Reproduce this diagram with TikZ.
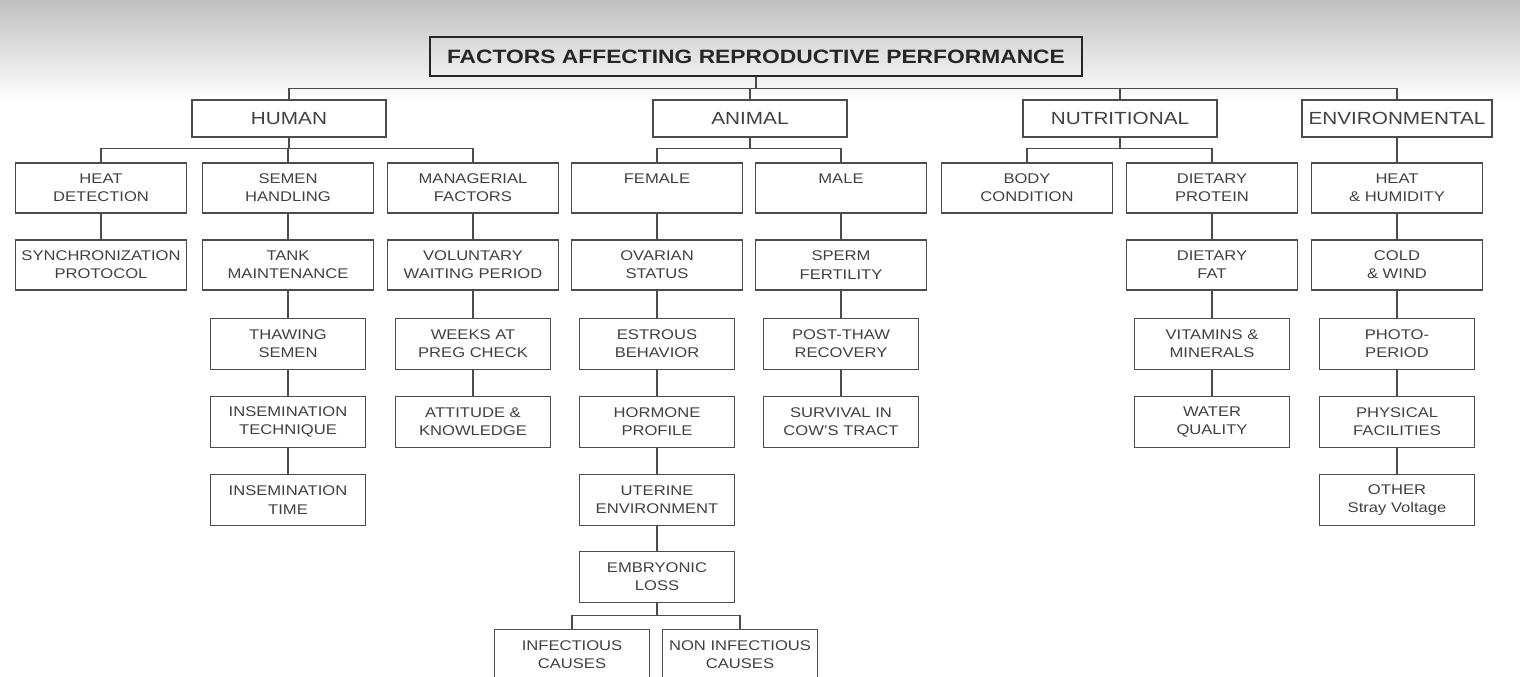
\documentclass[tikz,border=0pt]{standalone}
\usepackage{fontspec}
\setmainfont[FakeStretch=1.18]{Liberation Sans}
\begin{document}
\begin{tikzpicture}[x=0.02cm,y=-0.02cm,
  line/.style={draw=black!70, line width=0.7pt},
  box/.style={line, align=center, inner sep=0pt, text=black!75,
    font=\fontsize{8}{10.4}\selectfont, minimum width=3.42cm, minimum height=1.0cm},
  nbox/.style={box, minimum width=3.1cm, minimum height=1.03cm},
  topbox/.style={box, font=\fontsize{10}{12}\selectfont, minimum width=3.88cm, minimum height=0.74cm},
  titlebox/.style={box, draw=black!85, line width=0.9pt, text=black!85,
    font=\fontsize{11}{13}\selectfont\bfseries, minimum width=13.04cm, minimum height=0.78cm}]
\useasboundingbox (0,0) rectangle (1520,676);
% scan shading at the top
\shade[top color=black!25, bottom color=white] (0,0) rectangle (1520,100);
% Title and main groups
\node[titlebox] (title) at (756,56.5) {FACTORS AFFECTING REPRODUCTIVE PERFORMANCE};
\node[topbox] (human)  at (289,118.5) {HUMAN};
\node[topbox] (animal) at (750,118.5) {ANIMAL};
\node[topbox] (nutri)  at (1120,118.5) {NUTRITIONAL};
\node[topbox, minimum width=3.8cm] (env) at (1397,118.5) {ENVIRONMENTAL};
% --- Human ---
\node[box]  (heat)  at (101,188) {HEAT\\DETECTION};
\node[box]  (sync)  at (101,265) {SYNCHRONIZATION\\PROTOCOL};
\node[box]  (semen) at (288,188) {SEMEN\\HANDLING};
\node[box]  (tank)  at (288,265) {TANK\\MAINTENANCE};
\node[nbox] (thaw)  at (288,344) {THAWING\\SEMEN};
\node[nbox] (tech)  at (288,422) {INSEMINATION\\TECHNIQUE};
\node[nbox] (itime) at (288,500) {INSEMINATION\\TIME};
\node[box]  (manag) at (473,188) {MANAGERIAL\\FACTORS};
\node[box]  (vwp)   at (473,265) {VOLUNTARY\\WAITING PERIOD};
\node[nbox] (weeks) at (473,344) {WEEKS AT\\PREG CHECK};
\node[nbox] (attit) at (473,422) {ATTITUDE \&\\KNOWLEDGE};
% --- Animal ---
\node[box]  (female) at (657,188) {FEMALE\\\mbox{}};
\node[box]  (ovar)   at (657,265) {OVARIAN\\STATUS};
\node[nbox] (estr)   at (657,344) {ESTROUS\\BEHAVIOR};
\node[nbox] (horm)   at (657,422) {HORMONE\\PROFILE};
\node[nbox] (uter)   at (657,500) {UTERINE\\ENVIRONMENT};
\node[nbox] (embr)   at (657,577) {EMBRYONIC\\LOSS};
\node[nbox] (infec)  at (572,655) {INFECTIOUS\\CAUSES};
\node[nbox] (noninf) at (740,655) {NON INFECTIOUS\\CAUSES};
\node[box]  (male)   at (841,188) {MALE\\\mbox{}};
\node[box]  (sperm)  at (841,265) {SPERM\\FERTILITY};
\node[nbox] (post)   at (841,344) {POST-THAW\\RECOVERY};
\node[nbox] (surv)   at (841,422) {SURVIVAL IN\\COW'S TRACT};
% --- Nutritional ---
\node[box]  (body)    at (1027,188) {BODY\\CONDITION};
\node[box]  (protein) at (1212,188) {DIETARY\\PROTEIN};
\node[box]  (fat)     at (1212,265) {DIETARY\\FAT};
\node[nbox] (vitam)   at (1212,344) {VITAMINS \&\\MINERALS};
\node[nbox] (water)   at (1212,422) {WATER\\QUALITY};
% --- Environmental ---
\node[box]  (humid) at (1397,188) {HEAT\\\& HUMIDITY};
\node[box]  (cold)  at (1397,265) {COLD\\\& WIND};
\node[nbox] (photo) at (1397,344) {PHOTO-\\PERIOD};
\node[nbox] (phys)  at (1397,422) {PHYSICAL\\FACILITIES};
\node[nbox] (other) at (1397,500) {OTHER\\Stray Voltage};
% Branch connectors
\foreach \n in {human,animal,nutri,env}
  \draw[line] (title.south) -- ++(0,12) -| (\n.north);
\foreach \n in {heat,semen,manag}
  \draw[line] (human.south) -- ++(0,11) -| (\n.north);
\foreach \n in {female,male}
  \draw[line] (animal.south) -- ++(0,11) -| (\n.north);
\foreach \n in {body,protein}
  \draw[line] (nutri.south) -- ++(0,11) -| (\n.north);
\draw[line] (env.south) -- (humid.north);
\foreach \n in {infec,noninf}
  \draw[line] (embr.south) -- ++(0,12) -| (\n.north);
% Chains
\foreach \a/\b in {heat/sync, semen/tank, tank/thaw, thaw/tech, tech/itime,
    manag/vwp, vwp/weeks, weeks/attit, female/ovar, ovar/estr, estr/horm,
    horm/uter, uter/embr, male/sperm, sperm/post, post/surv, protein/fat,
    fat/vitam, vitam/water, humid/cold, cold/photo, photo/phys, phys/other}
  \draw[line] (\a) -- (\b);
\end{tikzpicture}
\end{document}
